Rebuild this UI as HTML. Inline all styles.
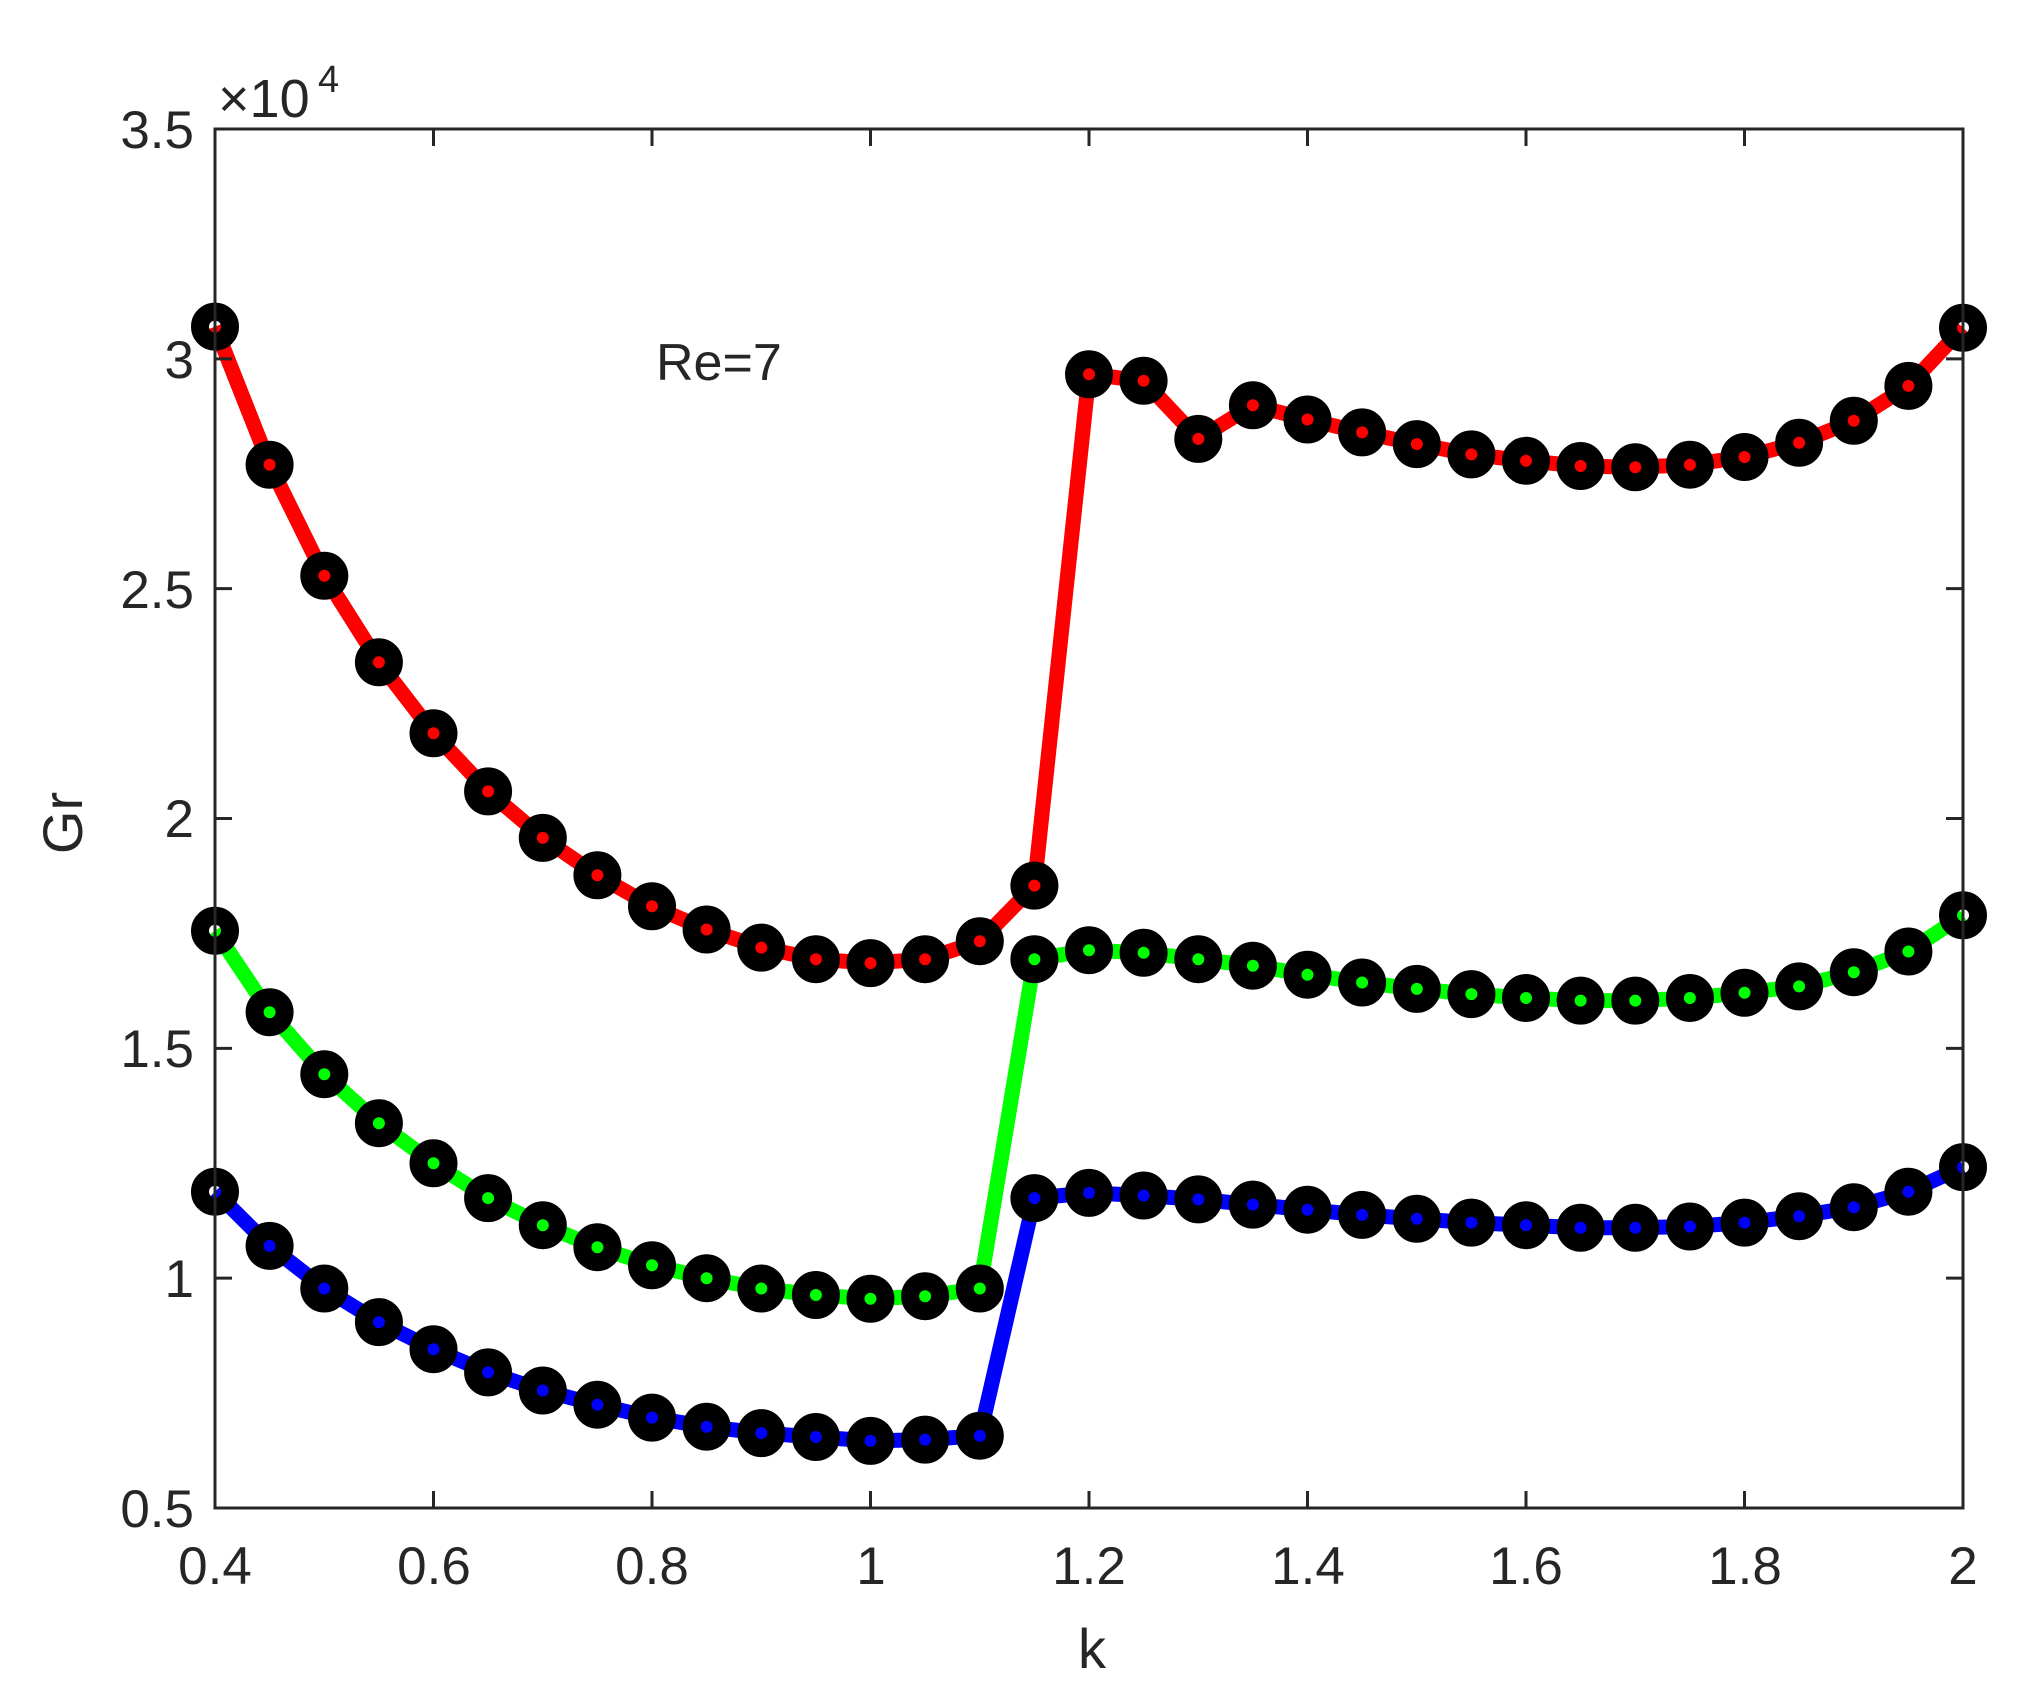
<!DOCTYPE html>
<html><head><meta charset="utf-8"><style>
body{margin:0;background:#fff}
svg text{font-family:"Liberation Sans",sans-serif;fill:#262626}
</style></head><body>
<svg id="s" width="2022" height="1697" xmlns="http://www.w3.org/2000/svg">
<rect width="2022" height="1697" fill="#fff"/>
<g id="g"></g>
<rect x="215" y="129" width="1748" height="1379" fill="none" stroke="#262626" stroke-width="3"/>
<g id="t" stroke="#262626" stroke-width="3"></g>
<g font-size="53" text-anchor="middle">
<text x="215" y="1584">0.4</text><text x="434" y="1584">0.6</text><text x="652" y="1584">0.8</text><text x="871" y="1584">1</text><text x="1089" y="1584">1.2</text><text x="1308" y="1584">1.4</text><text x="1526" y="1584">1.6</text><text x="1745" y="1584">1.8</text><text x="1963" y="1584">2</text>
</g>
<g font-size="53" text-anchor="end">
<text x="194" y="148">3.5</text><text x="194" y="378">3</text><text x="194" y="608">2.5</text><text x="194" y="837">2</text><text x="194" y="1067">1.5</text><text x="194" y="1297">1</text><text x="194" y="1527">0.5</text>
</g>
<text x="218" y="117" font-size="54">×10</text><text x="318" y="92" font-size="38">4</text>
<text x="656" y="380" font-size="52">Re=7</text>
<text x="1092" y="1668" font-size="56" text-anchor="middle">k</text>
<text transform="translate(82,823) rotate(-90)" font-size="56" text-anchor="middle">Gr</text>
</svg>
<script>
var R=[253,360,446,513,568,613,649,678,702,720,734,743,746,743,729,686,290,295,340,314,325,335,344,352,357,361,362,360,354,343,326,299,254];
var G=[721,784,832,870,901,928,949,966,980,990,998,1003,1006,1004,998,743,736,738,743,748,755,761,766,770,773,775,775,773,769,764,753,737,709];
var B=[923,965,998,1024,1045,1063,1077,1088,1098,1105,1110,1113,1116,1115,1112,928,924,926,929,933,937,941,944,947,949,951,951,950,947,942,935,923,904];
function X(i){return 215+i*0.05*1092.5}
function Y(d){return 129+(d-100)*1379/1068}
var g=document.getElementById('g'),h='';
[[B,'#0000ff'],[G,'#00ff00'],[R,'#ff0000']].forEach(function(s){
 var p=s[0].map(function(d,i){return X(i).toFixed(1)+','+Y(d).toFixed(1)}).join(' ');
 h+='<polyline points="'+p+'" fill="none" stroke="'+s[1]+'" stroke-width="15" stroke-linejoin="round"/>';
});
[B,G,R].forEach(function(s){s.forEach(function(d,i){h+='<circle cx="'+X(i).toFixed(1)+'" cy="'+Y(d).toFixed(1)+'" r="15" fill="none" stroke="#000" stroke-width="18"/>';});});
g.innerHTML=h;
var t='';
for(var i=0;i<9;i++){var x=215+i*0.2*1092.5;t+='<line x1="'+x+'" y1="1508" x2="'+x+'" y2="1491"/><line x1="'+x+'" y1="129" x2="'+x+'" y2="146"/>';}
for(var j=0;j<7;j++){var y=129+j*1379/6;t+='<line x1="215" y1="'+y+'" x2="232" y2="'+y+'"/><line x1="1963" y1="'+y+'" x2="1946" y2="'+y+'"/>';}
document.getElementById('t').innerHTML=t;
</script>
</body></html>
